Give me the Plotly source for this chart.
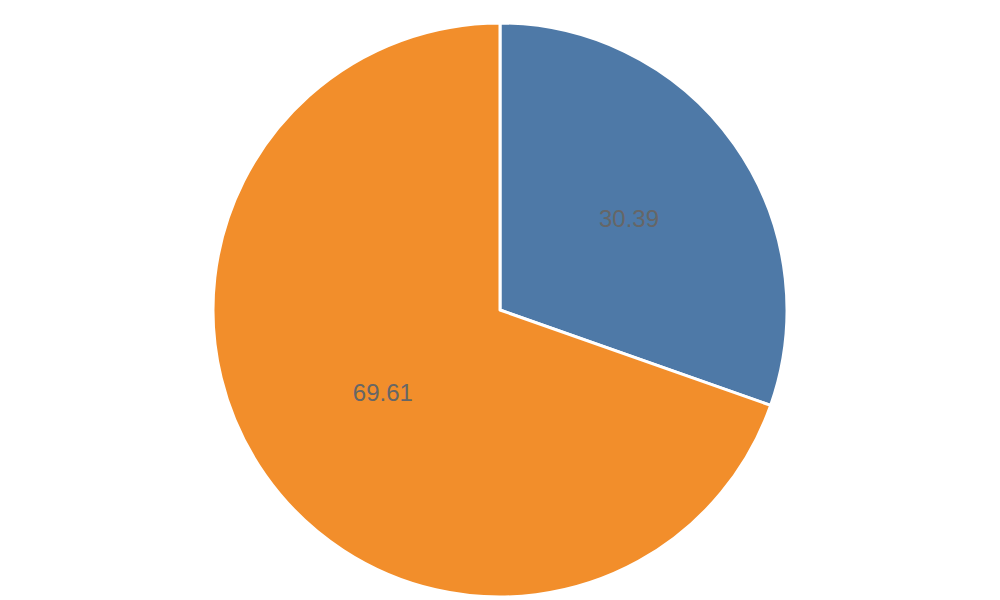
import plotly.graph_objects as go

labels = ["A", "B"]
values = [30.39, 69.61]
colors = ["#4E79A7", "#F28E2B"]

fig = go.Figure(go.Pie(
    labels=labels,
    values=values,
    sort=False,
    direction="clockwise",
    rotation=0,
    marker=dict(colors=colors, line=dict(color="white", width=3)),
    textinfo="value",
    textposition="inside",
    insidetextorientation="horizontal",
    textfont=dict(family="Liberation Sans, Arial, sans-serif", size=24, color="#666666"),
    hoverinfo="label+value",
))
fig.update_layout(
    width=1000, height=600,
    showlegend=False,
    paper_bgcolor="white",
    margin=dict(l=0, r=16, t=15, b=11),
)
fig.write_html("out.html")
